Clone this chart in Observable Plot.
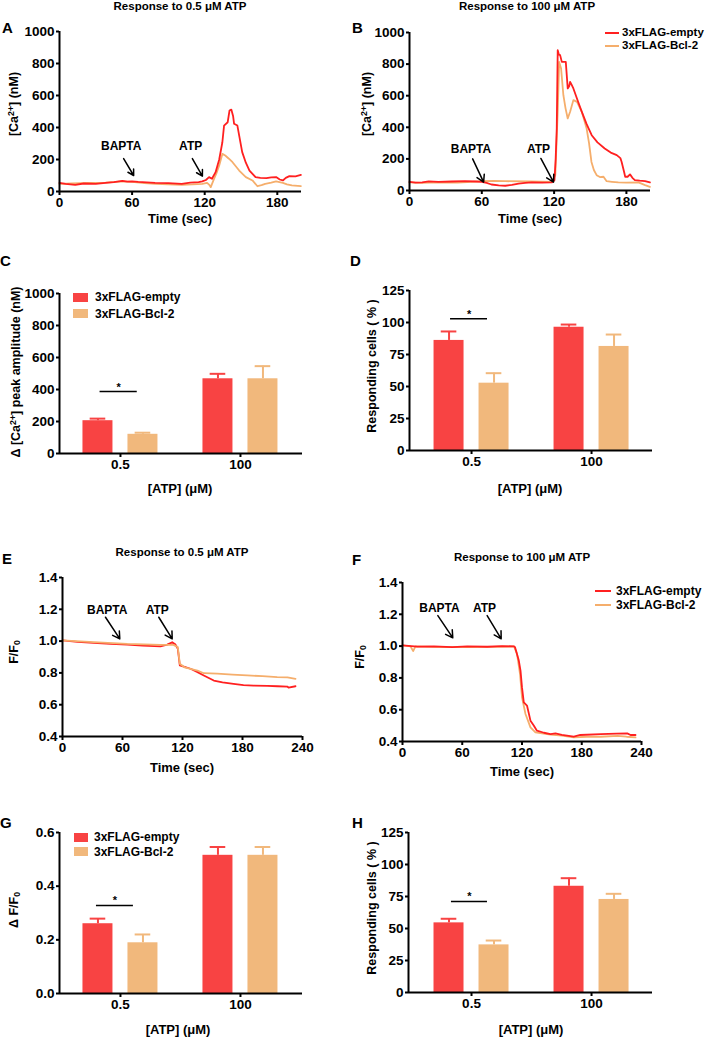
<!DOCTYPE html>
<html><head><meta charset="utf-8">
<script src="https://cdn.jsdelivr.net/npm/d3@7"></script>
<script src="https://cdn.jsdelivr.net/npm/@observablehq/plot@0.6"></script>
<style>
body{margin:0;background:#fff;}
#fig{position:relative;width:708px;height:1038px;overflow:hidden;font-family:"Liberation Sans",Arial,Helvetica,sans-serif;color:#000;}
.t{position:absolute;white-space:nowrap;line-height:1;}
.t sup{font-size:70%;vertical-align:0.45em;line-height:0;}
.t sub{font-size:70%;vertical-align:-0.2em;line-height:0;}
.sw{position:absolute;}
svg{position:absolute;overflow:visible;}
</style></head>
<body><div id="fig"></div>
<script>
// ---------------- DATA ----------------
const groups = ["3xFLAG-empty", "3xFLAG-Bcl-2"];
const atpLevels = ["0.5", "100"];
const timeTicksAB = [0, 60, 120, 180];
const timeTicksEF = [0, 60, 120, 180, 240];
const caTicks = [0, 200, 400, 600, 800, 1000];
const ratioTicks = [0.4, 0.6, 0.8, 1.0, 1.2, 1.4];
const pctTicks = [0, 25, 50, 75, 100, 125];
const dffTicks = [0, 0.2, 0.4, 0.6];

// Panel A traces [time (s), Ca2+ (nM)]
const traceA_empty = [[0,54],[5,48],[13,42],[20,50],[30,48],[38,54],[45,58],[52,67],[56,62],[60,63],[65,60],[72,57],[79,54],[90,52],[101,48],[108,55],[115,58],[118,63],[121,72],[123.6,90],[126,80],[129,121],[132,200],[134.6,308],[136,412],[139,433],[140.5,506],[142,512],[143.5,470],[144.3,423],[147,412],[151,246],[154,180],[157,131],[162,90],[166,85],[171,83],[175,88],[179,90],[182,75],[184.6,69],[187,85],[190,96],[195,95],[199.5,104]];
const traceA_bcl2 = [[0,48],[10,50],[24,54],[38,56],[52,63],[60,60],[70,52],[79.5,48],[90,45],[101,42],[110,44],[118,48],[122,54],[124,40],[125,27],[127.7,79],[130,120],[132,163],[134.6,235],[137,225],[140,205],[143,183],[148.5,131],[154,90],[159.5,69],[163.6,33],[167,40],[170,48],[175,55],[179,63],[184.6,54],[188,45],[192,38],[199.5,33]];
// Panel B traces
const traceB_empty = [[0,55],[5,50],[10.5,51],[16,58],[24,55],[35,57],[46,59],[55,57],[60,55],[64,48],[68,38],[74,33],[79.5,30],[85,36],[90.5,44],[96,48],[101.5,51],[110,50],[118,51],[120.3,65],[121.3,200],[122.2,392],[123,888],[124,860],[125,857],[126.4,814],[129.7,814],[131.3,646],[132.5,660],[133.3,688],[134.5,670],[136,646],[140,560],[143,498],[147,420],[151.2,350],[156,305],[162,266],[167,240],[172,224],[175,205],[176,182],[178,120],[179,87],[181,87],[183,102],[185,80],[187,66],[191,62],[195.5,59],[199.5,51]];
const traceB_bcl2 = [[0,51],[10,48],[25,52],[40,50],[52,55],[60,59],[70,60],[79.5,59],[100,57],[118,55],[121,97],[123,498],[124.2,814],[125.8,772],[127.7,603],[129.5,520],[131.3,456],[133.3,498],[136,572],[139,561],[143,498],[147,392],[149,300],[151,181],[153,130],[155.3,97],[158,85],[161,87],[163.6,59],[168,55],[173.3,51],[180,50],[190,51],[195.5,34],[199.5,23]];
// Panel E traces [time (s), F/F0]
const traceE_empty = [[0,1.004],[15,0.995],[31,0.989],[48,0.983],[64.7,0.978],[80,0.972],[98,0.967],[104.7,0.978],[109.7,0.993],[113,0.978],[115.3,0.952],[117.3,0.847],[122,0.838],[128,0.826],[135,0.805],[141.3,0.784],[151.3,0.752],[160,0.740],[171,0.731],[181,0.723],[191,0.72],[205,0.718],[215,0.716],[224.7,0.714],[226,0.708],[233,0.716]];
const traceE_bcl2 = [[0,1.004],[31,0.993],[64.7,0.982],[98,0.976],[111,0.976],[115.3,0.962],[117.3,0.857],[122,0.835],[128,0.826],[135,0.815],[141.3,0.798],[154.7,0.795],[170,0.789],[184.7,0.784],[200,0.780],[214.7,0.774],[225,0.772],[233,0.763]];
// Panel F traces
const traceF_empty = [[0,1.004],[15,0.997],[31.5,0.998],[50,0.994],[65,0.998],[85,0.996],[100,1.0],[112,0.998],[113,0.993],[116.8,0.909],[118.5,0.846],[120,0.74],[121.8,0.646],[125,0.626],[128.5,0.531],[131.8,0.5],[135,0.468],[142,0.455],[148.6,0.447],[153.6,0.451],[160,0.442],[172,0.43],[178.6,0.441],[199,0.447],[215,0.45],[225.7,0.451],[229,0.441],[234,0.441]];
const traceF_bcl2 = [[0,1.004],[8,0.998],[10.7,0.969],[13,0.998],[40,0.994],[65,0.993],[90,0.995],[112,0.998],[115,0.951],[118,0.826],[120,0.678],[123.5,0.573],[128.5,0.489],[133.5,0.457],[148.6,0.443],[160,0.437],[172,0.426],[185,0.43],[199,0.43],[216,0.436],[225,0.43],[234,0.426]];

// Annotations (arrow start/end in data units, label position)
const notesA = [{label:"BAPTA", tx:51, ty:281, x1:53, y1:206, x2:61.3, y2:100},{label:"ATP", tx:108.4, ty:281, x1:109.8, y1:206, x2:118.1, y2:96}];
const notesB = [{label:"BAPTA", tx:51, ty:259, x1:52.4, y1:200, x2:61.5, y2:53},{label:"ATP", tx:107, ty:259, x1:109, y1:203, x2:119.5, y2:53}];
const notesE = [{label:"BAPTA", tx:44.7, ty:1.197, x1:43, y1:1.150, x2:57.3, y2:1.014},{label:"ATP", tx:94.7, ty:1.197, x1:96.3, y1:1.150, x2:109.7, y2:1.014}];
const notesF = [{label:"BAPTA", tx:37.1, ty:1.241, x1:35.5, y1:1.192, x2:50.5, y2:1.052},{label:"ATP", tx:82.3, ty:1.241, x1:85, y1:1.192, x2:99.1, y2:1.046}];

// Bar panels: means and SEM (per ATP level)
const cEmptyMean = [205, 467], cEmptySem = [13, 31];
const cBclMean   = [120, 467], cBclSem   = [10, 79];
const dEmptyMean = [86, 96.3], dEmptySem = [7, 2.1];
const dBclMean   = [52.6, 81.3], dBclSem = [7.8, 9.3];
const gEmptyMean = [0.26, 0.515], gEmptySem = [0.019, 0.031];
const gBclMean   = [0.189, 0.515], gBclSem = [0.031, 0.031];
const hEmptyMean = [54.4, 83], hEmptySem = [3.2, 6.3];
const hBclMean   = [37.2, 72.7], hBclSem = [3.4, 4.4];
// significance brackets (x in category units relative to ATP level index, y in data units)
const sigC = [{x1:-0.17, x2:0.14, y:387}];
const sigD = [{x1:-0.175, x2:0.133, y:103}];
const sigG = [{x1:-0.2, x2:0.108, y:0.328}];
const sigH = [{x1:-0.167, x2:0.133, y:71.1}];

// ---------------- STYLE ----------------
const RED_BAR = "#f84343", ORG_BAR = "#f1b87c";
const RED_LINE = "#ff2020", ORG_LINE = "#f5ae6c";
const FONT = '"Liberation Sans", Arial, Helvetica, sans-serif';
const OFF = 0.1875, HW = 0.125, CAP = 0.065;

const fig = document.getElementById("fig");

function txt(html, x, y, {size = 12.5, weight = "bold", rot = false, anchor = "c"} = {}) {
  const d = document.createElement("div");
  d.className = "t";
  d.innerHTML = html;
  d.style.left = x + "px"; d.style.top = y + "px";
  d.style.fontSize = size + "px"; d.style.fontWeight = weight;
  d.style.transform = rot ? "translate(-50%,-50%) rotate(-90deg)" : (anchor === "c" ? "translate(-50%,-50%)" : "translate(0,-50%)");
  fig.appendChild(d);
}
function swatch(x, y, w, h, color) {
  const d = document.createElement("div");
  d.className = "sw";
  Object.assign(d.style, {left: x + "px", top: y + "px", width: w + "px", height: h + "px", background: color});
  fig.appendChild(d);
}

function panel(frame, xOpt, yOpt, marks) {
  const pad = {l: 50, r: 20, t: 20, b: 30};
  const bx = frame.x1 - pad.l, by = frame.y1 - pad.t;
  const w = frame.x2 - frame.x1 + pad.l + pad.r, h = frame.y2 - frame.y1 + pad.t + pad.b;
  const svg = Plot.plot({
    width: w, height: h,
    marginLeft: pad.l, marginRight: pad.r, marginTop: pad.t, marginBottom: pad.b,
    x: xOpt, y: yOpt,
    color: {domain: groups, range: [RED_BAR, ORG_BAR]},
    style: {fontFamily: FONT, fontSize: "13.5px", fontWeight: "bold", background: "transparent", color: "#000", overflow: "visible"},
    marks
  });
  svg.style.left = bx + "px"; svg.style.top = by + "px";
  fig.appendChild(svg);
}

function axes(xTicks, xFmt, yTicks, yFmt, xMin, yMin) {
  return [
    Plot.axisX({ticks: xTicks, tickFormat: xFmt, tickSize: 4, tickPadding: 2, strokeWidth: 2, label: null, fontSize: 13.5, fontWeight: "bold"}),
    Plot.axisY({ticks: yTicks, tickFormat: yFmt, tickSize: 3, tickPadding: 2, strokeWidth: 2, label: null, fontSize: 13.5, fontWeight: "bold"}),
    Plot.ruleY([yMin], {strokeWidth: 2}),
    Plot.ruleX([xMin], {strokeWidth: 2})
  ];
}

function tracePanel(frame, xDom, yDom, xTicks, yTicks, yFmt, empty, bcl2, notes, redOnTop) {
  const lineE = Plot.line(empty, {x: d => d[0], y: d => d[1], stroke: RED_LINE, strokeWidth: 1.8});
  const lineB = Plot.line(bcl2, {x: d => d[0], y: d => d[1], stroke: ORG_LINE, strokeWidth: 1.8});
  panel(frame, {domain: xDom}, {domain: yDom}, [
    ...(redOnTop ? [lineB, lineE] : [lineE, lineB]),
    Plot.arrow(notes, {x1: "x1", y1: "y1", x2: "x2", y2: "y2", stroke: "#000", strokeWidth: 1.5, headLength: 8, bend: 0}),
    Plot.text(notes, {x: "tx", y: "ty", text: "label", fontSize: 12, fontWeight: "bold", fill: "#000"}),
    ...axes(xTicks, d => String(d), yTicks, yFmt, xDom[0], yDom[0])
  ]);
}

function barRows(emptyMean, emptySem, bclMean, bclSem) {
  const rows = [];
  atpLevels.forEach((lvl, i) => {
    rows.push({i, group: groups[0], pos: i - OFF, mean: emptyMean[i], sem: emptySem[i]});
    rows.push({i, group: groups[1], pos: i + OFF, mean: bclMean[i], sem: bclSem[i]});
  });
  return rows;
}

function barPanel(frame, xDom, yDom, yTicks, yFmt, rows, sig) {
  panel(frame, {domain: xDom}, {domain: yDom}, [
    Plot.rect(rows, {x1: d => d.pos - HW, x2: d => d.pos + HW, y1: 0, y2: "mean", fill: "group"}),
    Plot.ruleX(rows, {x: "pos", y1: "mean", y2: d => d.mean + d.sem, stroke: "group", strokeWidth: 2}),
    Plot.ruleY(rows, {y: d => d.mean + d.sem, x1: d => d.pos - CAP, x2: d => d.pos + CAP, stroke: "group", strokeWidth: 2}),
    Plot.ruleY(sig, {y: "y", x1: "x1", x2: "x2", stroke: "#000", strokeWidth: 1.5}),
    Plot.text(sig, {x: d => (d.x1 + d.x2) / 2, y: "y", text: () => "*", fontSize: 11, lineAnchor: "bottom", dy: -1, fill: "#000"}),
    ...axes([0, 1], i => atpLevels[i], yTicks, yFmt, xDom[0], yDom[0])
  ]);
}

// ---------------- PANELS ----------------
const f1 = d3.format(".1f");
tracePanel({x1: 59, x2: 301, y1: 31, y2: 191}, [0, 200], [0, 1000], timeTicksAB, caTicks, d => String(d), traceA_empty, traceA_bcl2, notesA, true);
tracePanel({x1: 409, x2: 650, y1: 32, y2: 190}, [0, 200], [0, 1000], timeTicksAB, caTicks, d => String(d), traceB_empty, traceB_bcl2, notesB, true);
barPanel({x1: 59, x2: 302, y1: 293, y2: 453}, [-0.508, 1.517], [0, 1000], caTicks, d => String(d), barRows(cEmptyMean, cEmptySem, cBclMean, cBclSem), sigC);
barPanel({x1: 409, x2: 652, y1: 290, y2: 450}, [-0.517, 1.508], [0, 125], pctTicks, d => String(d), barRows(dEmptyMean, dEmptySem, dBclMean, dBclSem), sigD);
tracePanel({x1: 62, x2: 302, y1: 577, y2: 736}, [0, 240], [0.4, 1.4], timeTicksEF, ratioTicks, f1, traceE_empty, traceE_bcl2, notesE, false);
tracePanel({x1: 402, x2: 641, y1: 582, y2: 741}, [0, 240], [0.4, 1.4], timeTicksEF, ratioTicks, f1, traceF_empty, traceF_bcl2, notesF, true);
barPanel({x1: 59, x2: 302, y1: 832, y2: 993}, [-0.508, 1.517], [0, 0.6], dffTicks, f1, barRows(gEmptyMean, gEmptySem, gBclMean, gBclSem), sigG);
barPanel({x1: 408, x2: 652, y1: 832, y2: 992}, [-0.525, 1.508], [0, 125], pctTicks, d => String(d), barRows(hEmptyMean, hEmptySem, hBclMean, hBclSem), sigH);

// ---------------- TEXT ----------------
const letters = [["A",2,27],["B",352,27],["C",0,260],["D",350,260],["E",2,558],["F",352,559],["G",0,822],["H",352,822]];
letters.forEach(([l, x, y]) => txt(l, x, y, {size: 15, anchor: "l"}));

txt("Response to 0.5 μM ATP", 180, 7, {size: 11.5});
txt("Response to 100 μM ATP", 527, 7, {size: 11.5});
txt("Response to 0.5 μM ATP", 182, 553, {size: 11.5});
txt("Response to 100 μM ATP", 522, 558, {size: 11.5});

txt("[Ca<sup>2+</sup>] (nM)", 14, 104, {rot: true});
txt("[Ca<sup>2+</sup>] (nM)", 367, 104, {rot: true});
txt("Δ [Ca<sup>2+</sup>] peak amplitude (nM)", 16, 372, {rot: true});
txt("Responding cells ( % )", 372, 366, {rot: true});
txt("F/F<sub>0</sub>", 14, 652, {rot: true});
txt("F/F<sub>0</sub>", 360, 657, {rot: true});
txt("Δ F/F<sub>0</sub>", 14, 910, {rot: true});
txt("Responding cells ( % )", 372, 908, {rot: true});

txt("Time (sec)", 180, 218, {size: 13});
txt("Time (sec)", 530, 218, {size: 13});
txt("[ATP] (μM)", 180, 488, {size: 13});
txt("[ATP] (μM)", 530, 488, {size: 13});
txt("Time (sec)", 182, 767, {size: 13});
txt("Time (sec)", 522, 771, {size: 13});
txt("[ATP] (μM)", 178, 1029, {size: 13});
txt("[ATP] (μM)", 531, 1029, {size: 13});

// legends
swatch(605, 32, 14, 2, RED_LINE); txt(groups[0], 622, 33, {size: 11.5, anchor: "l"});
swatch(605, 44.5, 14, 2, ORG_LINE); txt(groups[1], 622, 45.5, {size: 11.5, anchor: "l"});
swatch(595, 590, 16, 2, RED_LINE); txt(groups[0], 616, 591, {size: 12, anchor: "l"});
swatch(595, 604, 16, 2, ORG_LINE); txt(groups[1], 616, 605, {size: 12, anchor: "l"});
swatch(73, 292.5, 15, 9, RED_BAR); txt(groups[0], 95, 297, {size: 12, anchor: "l"});
swatch(73, 309, 15, 9, ORG_BAR); txt(groups[1], 95, 313.5, {size: 12, anchor: "l"});
swatch(74, 832.5, 14, 9, RED_BAR); txt(groups[0], 94, 837, {size: 12, anchor: "l"});
swatch(74, 847, 14, 9, ORG_BAR); txt(groups[1], 94, 851.5, {size: 12, anchor: "l"});
</script></body></html>
